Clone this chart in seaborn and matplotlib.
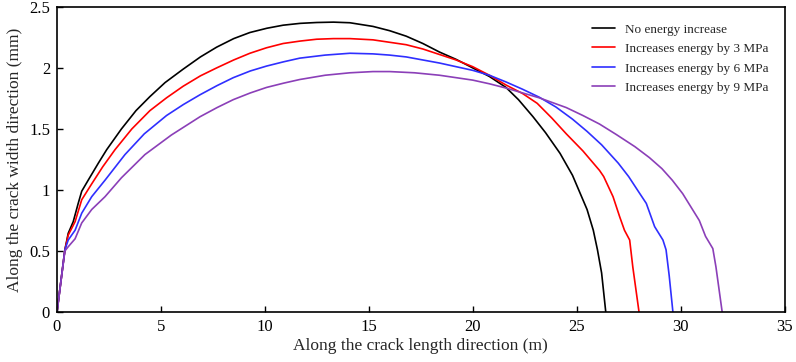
import numpy as np
import pandas as pd
import matplotlib
matplotlib.use("Agg")
import matplotlib.pyplot as plt
import seaborn as sns

series_names = ["No energy increase", "Increases energy by 3 MPa",
                "Increases energy by 6 MPa", "Increases energy by 9 MPa"]
series_colors = ["#000000", "#FF0000", "#2F2FFF", "#8B3FB8"]

x_black = [0, 0.38, 0.54, 0.78, 1.02, 1.19, 1.5, 1.99, 2.39, 3.1, 3.8, 4.47, 5.2, 6.07, 6.9, 7.68, 8.5, 9.28,
           10.1, 10.88, 11.7, 12.49, 13.3, 14.09, 15.2, 16.0, 16.8, 17.6, 18.4, 19.2, 20.0, 20.8, 21.6, 22.2,
           22.9, 23.5, 24.2, 24.8, 25.1, 25.5, 25.8, 26.0, 26.2, 26.4]
y_black = [0, 0.51, 0.645, 0.74, 0.89, 0.99, 1.08, 1.22, 1.33, 1.5, 1.65, 1.765, 1.88, 1.99, 2.09, 2.17, 2.24, 2.29,
           2.325, 2.35, 2.365, 2.372, 2.375, 2.37, 2.34, 2.305, 2.26, 2.2, 2.13, 2.07, 2.0, 1.93, 1.84, 1.74,
           1.60, 1.47, 1.30, 1.12, 1.0, 0.84, 0.67, 0.51, 0.32, 0]

x_red = [0, 0.38, 0.54, 0.87, 1.19, 1.67, 2.2, 2.79, 3.6, 4.47, 5.27, 6.07, 6.9, 7.68, 8.5, 9.28, 10.08, 10.88,
         11.7, 12.49, 13.3, 14.09, 15.2, 16.0, 16.8, 17.6, 18.4, 19.2, 20.0, 20.8, 21.6, 22.4, 23.1, 23.8,
         24.5, 25.3, 26.1, 26.3, 26.75, 27.07, 27.3, 27.55, 27.7, 28.0]
y_red = [0, 0.51, 0.63, 0.74, 0.92, 1.05, 1.19, 1.33, 1.5, 1.65, 1.755, 1.85, 1.935, 2.0, 2.065, 2.12, 2.165, 2.20,
         2.22, 2.235, 2.24, 2.24, 2.23, 2.21, 2.19, 2.155, 2.11, 2.065, 2.01, 1.94, 1.86, 1.79, 1.71, 1.59,
         1.46, 1.32, 1.16, 1.11, 0.945, 0.78, 0.67, 0.59, 0.37, 0]

x_blue = [0, 0.38, 0.54, 0.87, 1.19, 1.67, 2.31, 3.27, 4.2, 5.27, 6.08, 6.88, 7.7, 8.48, 9.3, 10.08, 10.9, 11.68,
          12.9, 14.09, 15.2, 16.0, 16.8, 17.6, 18.4, 19.2, 20.0, 20.8, 21.6, 22.4, 23.2, 24.0, 24.8, 25.5,
          26.2, 27.0, 27.5, 28.0, 28.35, 28.75, 29.15, 29.3, 29.45, 29.63]
y_blue = [0, 0.51, 0.59, 0.67, 0.81, 0.945, 1.08, 1.29, 1.46, 1.61, 1.70, 1.78, 1.855, 1.92, 1.975, 2.015, 2.05, 2.08,
          2.105, 2.12, 2.115, 2.105, 2.09, 2.065, 2.04, 2.01, 1.98, 1.94, 1.885, 1.825, 1.76, 1.68, 1.58, 1.48,
          1.37, 1.22, 1.11, 0.98, 0.89, 0.70, 0.59, 0.51, 0.30, 0]

x_purple = [0, 0.38, 0.54, 0.87, 1.19, 1.67, 2.31, 3.1, 4.23, 5.5, 6.88, 7.7, 8.48, 9.3, 10.08, 10.9, 11.68, 12.9,
            14.09, 15.2, 16.0, 17.2, 18.4, 19.2, 20.0, 20.8, 21.6, 22.4, 23.2, 24.5, 25.3, 26.1, 26.9, 27.8,
            28.5, 29.1, 29.6, 30.1, 30.5, 30.9, 31.2, 31.55, 31.7, 32.0]
y_purple = [0, 0.50, 0.535, 0.60, 0.73, 0.84, 0.945, 1.10, 1.29, 1.45, 1.60, 1.675, 1.74, 1.795, 1.84, 1.875, 1.905, 1.94,
            1.96, 1.97, 1.97, 1.96, 1.94, 1.92, 1.90, 1.87, 1.835, 1.795, 1.755, 1.675, 1.61, 1.54, 1.455, 1.355,
            1.265, 1.175, 1.08, 0.97, 0.86, 0.75, 0.62, 0.52, 0.37, 0]

xs = [x_black, x_red, x_blue, x_purple]
ys = [y_black, y_red, y_blue, y_purple]

frames = []
for name, xv, yv in zip(series_names, xs, ys):
    frames.append(pd.DataFrame({"x": xv, "y": yv, "series": name}))
df = pd.concat(frames, ignore_index=True)

sns.set_style("ticks")
plt.rcParams["font.family"] = ["Liberation Serif", "DejaVu Serif"]

fig = plt.figure(figsize=(7.96, 3.62), dpi=100)
ax = fig.add_axes([0.0716, 0.138, 0.914, 0.843])

sns.lineplot(data=df, x="x", y="y", hue="series", hue_order=series_names,
             palette=series_colors, sort=False, estimator=None,
             linewidth=1.2, ax=ax)

ax.set_xlim(0, 35)
ax.set_ylim(0, 2.5)
ax.set_xticks([0, 5, 10, 15, 20, 25, 30, 35])
ax.set_yticks([0, 0.5, 1, 1.5, 2, 2.5])
ax.set_yticklabels(["0", "0.5", "1", "1.5", "2", "2.5"])
ax.tick_params(direction="in", length=4, width=1.0, labelsize=12, colors="black", pad=5)
for s in ax.spines.values():
    s.set_visible(True)
    s.set_linewidth(1.2)
    s.set_color("black")
ax.set_xlabel("Along the crack length direction (m)", fontsize=12.5, labelpad=2)
ax.set_ylabel("Along the crack width direction (mm)", fontsize=12.5, labelpad=4)

leg = ax.legend(loc="upper right", bbox_to_anchor=(0.995, 0.985), frameon=False,
                fontsize=9.5, handlelength=1.7, handletextpad=0.8, labelspacing=0.55)
for line in leg.get_lines():
    line.set_linewidth(1.2)

fig.savefig("out.png", dpi=100)
